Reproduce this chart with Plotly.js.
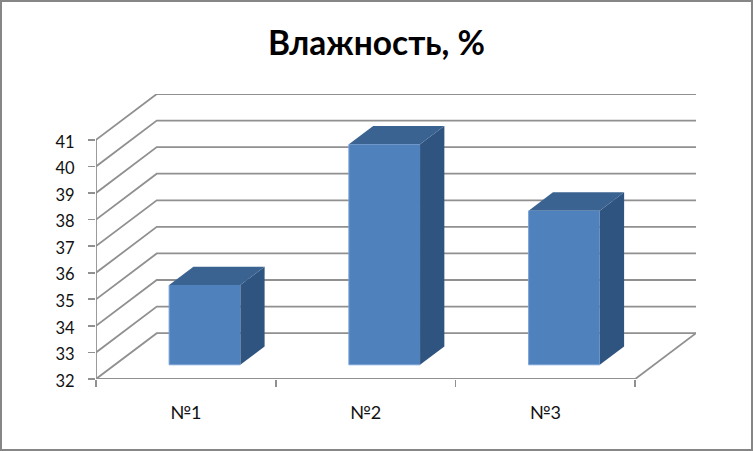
<!DOCTYPE html>
<html>
<head>
<meta charset="utf-8">
<script src="https://cdn.plot.ly/plotly-3.0.1.min.js"></script>
<style>
html,body{margin:0;padding:0;background:#fff;overflow:hidden}
#chart{width:753px;height:451px;position:relative}
#chart:after{content:"";position:absolute;left:0;top:0;right:0;bottom:0;border:2px solid #868686;pointer-events:none}
</style>
</head>
<body>
<div id="chart"></div>
<script>
const categories = ['№1', '№2', '№3'];
const values = [35, 40.3, 37.8];
const yTicks = [32, 33, 34, 35, 36, 37, 38, 39, 40, 41];
const titleText = 'Влажность, %';

// oblique projection of the chart's depth axis onto the x and y scales
const depthX = 0.338, depthY = 1.725;
const barFront = 0.31, barBack = 0.71, barHalf = 0.198;
const pt = (c, v, d) => [c + d * depthX, v + d * depthY];
const gridColor = '#909090';

function poly(points, color) {
  return {
    type: 'scatter', mode: 'lines', x: points.map(p => p[0]), y: points.map(p => p[1]),
    fill: 'toself', fillcolor: color, line: {width: 0, color: color},
    hoverinfo: 'skip', showlegend: false, cliponaxis: false
  };
}
function line(points, width, extra) {
  return Object.assign({
    type: 'scatter', mode: 'lines', x: points.map(p => p[0]), y: points.map(p => p[1]),
    line: {width: width, color: gridColor}, hoverinfo: 'skip', showlegend: false, cliponaxis: false
  }, extra || {});
}

const nCat = categories.length;
const traces = [];
// wall grid lines
yTicks.forEach(v => {
  traces.push(line([pt(0, v, 0), pt(0, v, 1), pt(nCat, v, 1)], 1.8));
});
// floor right edge
traces.push(line([pt(nCat, yTicks[0], 1), pt(nCat, yTicks[0], 0)], 1.8));
// value axis line
traces.push(line([pt(0, yTicks[0], 0), pt(0, yTicks[yTicks.length - 1], 0)], 1.8));

// bars
const base = yTicks[0];
values.forEach((v, i) => {
  const l = i + 0.5 - barHalf, r = i + 0.5 + barHalf;
  traces.push(poly([pt(r, base, barFront), pt(r, base, barBack), pt(r, v, barBack), pt(r, v, barFront)], '#2f5480'));
  traces.push(poly([pt(l, v, barFront), pt(r, v, barFront), pt(r, v, barBack), pt(l, v, barBack)], '#3a6391'));
  traces.push(poly([pt(l, base, barFront), pt(r, base, barFront), pt(r, v, barFront), pt(l, v, barFront)], '#4f81bd'));
  // pale highlight along the left and lower edges of the front face
  traces.push(line([pt(l, v, barFront), pt(l, base, barFront), pt(r, base, barFront)], 1, {line: {width: 1, color: '#79a2d6'}}));
});
// category axis line, on the overlay axis that carries the boundary ticks
traces.push(line([pt(0, base, 0), pt(nCat, base, 0)], 1.8, {xaxis: 'x2'}));

const xRange = [0, nCat + depthX];
const yRange = [yTicks[0], yTicks[yTicks.length - 1] + depthY];
const fontFamily = 'Lato, "Open Sans", sans-serif';

const layout = {
  width: 753, height: 451, autosize: false,
  paper_bgcolor: '#fff', plot_bgcolor: 'rgba(0,0,0,0)',
  margin: {l: 96, r: 57, t: 94.3, b: 71.5, pad: 0},
  showlegend: false,
  title: {text: '<b>' + titleText + '</b>', x: 0.5, xanchor: 'center', y: 0.903, yanchor: 'middle',
          font: {family: fontFamily, size: 33.5, color: '#000'}},
  xaxis: {
    range: xRange, tickmode: 'array',
    tickvals: categories.map((c, i) => i + 0.5), ticktext: categories,
    ticks: 'outside', ticklen: 17, tickcolor: 'rgba(0,0,0,0)',
    tickfont: {family: fontFamily, size: 18, color: '#111'},
    showgrid: false, zeroline: false, showline: false, fixedrange: true
  },
  xaxis2: {
    overlaying: 'x', range: xRange, tickmode: 'array',
    tickvals: [0, 1, 2, 3], ticktext: ['', '', '', ''],
    ticks: 'outside', ticklen: 7, tickwidth: 1.8, tickcolor: gridColor,
    showgrid: false, zeroline: false, showline: false, fixedrange: true, anchor: 'y'
  },
  yaxis: {
    range: yRange, tickmode: 'array', tickvals: yTicks, ticktext: yTicks.map(String),
    ticks: 'outside', ticklen: 7, tickwidth: 1.8, tickcolor: gridColor,
    ticklabelstandoff: 10, ticklabelshift: 2,
    tickfont: {family: fontFamily, size: 16.5, color: '#111'},
    showgrid: false, zeroline: false, showline: false, fixedrange: true
  }
};
Plotly.newPlot('chart', traces, layout, {displayModeBar: false, staticPlot: true});
</script>
</body>
</html>
